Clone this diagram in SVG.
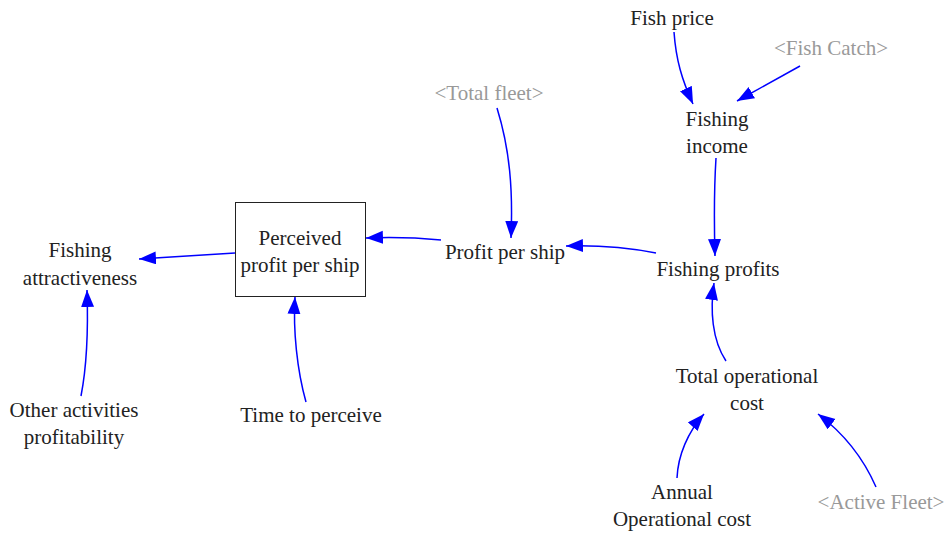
<svg xmlns="http://www.w3.org/2000/svg" width="947" height="535" viewBox="0 0 947 535">
<style>
text{font-family:"Liberation Serif","Times New Roman",serif;font-size:21px;text-anchor:middle;fill:#222}
text.g{fill:#999}
.c{fill:none;stroke:#0000ff;stroke-width:1.5;marker-end:url(#ah)}
</style>
<defs>
<marker id="ah" markerUnits="userSpaceOnUse" markerWidth="19" markerHeight="14" refX="17" refY="6.5" orient="auto">
<path d="M0,0 L17,6.5 L0,13 z" fill="#0000ff"/>
</marker>
</defs>
<rect width="947" height="535" fill="#fff"/>
<g id="connectors">
<path class="c" d="M674,32 C676,60 682,80 693,104"/>
<path class="c" d="M800,66 C780,77 760,88 737,101"/>
<path class="c" d="M497,108 C510,150 513,190 511,238"/>
<path class="c" d="M716,158 C714,190 714,220 715,256"/>
<path class="c" d="M656,253 C630,248 600,245 566,246"/>
<path class="c" d="M441,240 C420,238 390,237 366,238"/>
<path class="c" d="M235,253 L139,259"/>
<path class="c" d="M81,396 C88,360 88,320 87,290"/>
<path class="c" d="M306,402 C297,370 293,330 295,297"/>
<path class="c" d="M726,361 C712,340 710,310 714,283"/>
<path class="c" d="M677,478 C678,455 688,432 704,414"/>
<path class="c" d="M876,487 C862,455 842,432 818,414"/>
</g>
<g id="fish-price"><text x="672" y="25">Fish price</text></g>
<g id="fish-catch"><text class="g" x="831" y="55">&lt;Fish Catch&gt;</text></g>
<g id="total-fleet"><text class="g" x="489" y="100">&lt;Total fleet&gt;</text></g>
<g id="fishing-income"><text x="717" y="126">Fishing</text><text x="717" y="153">income</text></g>
<g id="fishing-profits"><text x="718" y="276">Fishing profits</text></g>
<g id="profit-per-ship"><text x="505" y="259">Profit per ship</text></g>
<g id="perceived-profit"><rect x="235.5" y="202.5" width="130" height="94" fill="none" stroke="#222" stroke-width="1"/><text x="300" y="245">Perceived</text><text x="300" y="272">profit per ship</text></g>
<g id="fishing-attractiveness"><text x="80" y="257">Fishing</text><text x="80" y="285">attractiveness</text></g>
<g id="other-activities"><text x="74" y="417">Other activities</text><text x="74" y="444">profitability</text></g>
<g id="time-to-perceive"><text x="311" y="422">Time to perceive</text></g>
<g id="total-operational-cost"><text x="747" y="383">Total operational</text><text x="747" y="410">cost</text></g>
<g id="annual-operational-cost"><text x="682" y="499">Annual</text><text x="682" y="526">Operational cost</text></g>
<g id="active-fleet"><text class="g" x="881" y="509">&lt;Active Fleet&gt;</text></g>
</svg>
